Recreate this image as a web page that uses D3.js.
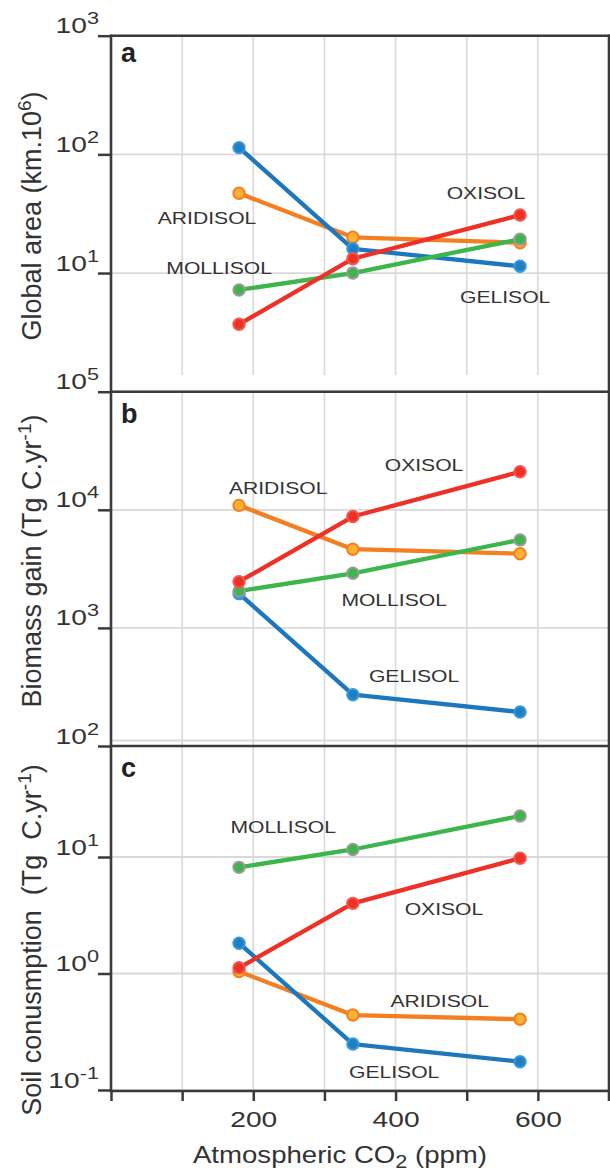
<!DOCTYPE html>
<html>
<head>
<meta charset="utf-8">
<script src="https://cdn.jsdelivr.net/npm/d3@7"></script>
<style>
  body { margin: 0; background: #fff; }
  text { font-family: Arial, 'Liberation Sans', Helvetica, sans-serif; fill: #333; white-space: pre; }
</style>
</head>
<body>
<div id="chart"></div>
<script>
// data
const co2 = [180, 340, 575];
const soils = ['ARIDISOL', 'GELISOL', 'MOLLISOL', 'OXISOL'];

// a: global area (km.10^6)
const areaAridisol = [47, 20, 18];
const areaGelisol = [114, 16, 11.4];
const areaMollisol = [7.2, 10, 19.3];
const areaOxisol = [3.7, 13.2, 30.8];

// b: biomass gain (Tg C/yr)
const biomassAridisol = [10900, 4640, 4250];
const biomassGelisol = [1950, 272, 194];
const biomassMollisol = [2050, 2900, 5560];
const biomassOxisol = [2460, 8770, 21000];

// c: soil consumption (Tg C/yr)
const soilAridisol = [1.04, 0.44, 0.405];
const soilGelisol = [1.82, 0.248, 0.175];
const soilMollisol = [8.15, 11.6, 22.5];
const soilOxisol = [1.12, 4.0, 9.75];

// tick labels
const xTicks = [0, 100, 200, 300, 400, 500, 600, 700];
const xTickLabels = [200, 400, 600];
const ticksA = [1000, 100, 10];
const ticksB = [1e5, 1e4, 1e3, 1e2];
const ticksC = [10, 1, 0.1];

// where the soil names sit, [co2, value] per soil order
const namesA = [[135, 29.1], [554, 6.2], [152, 11.0], [527, 47.2]];
const namesB = [[235, 15300], [426, 392], [398, 1720], [440, 23900]];
const namesC = [[462, 0.58], [398, 0.143], [242, 18.1], [468, 3.58]];

const chart_width = 610;
const chart_height = 1173;
const left = 111, right = 609;

const colors = {
    ARIDISOL: { line: '#f47f22', fill: '#fbb233', ring: '#f47f22' },
    GELISOL: { line: '#1c77bd', fill: '#1f7fc4', ring: '#3a98d6' },
    MOLLISOL: { line: '#3cb64b', fill: '#3cb64b', ring: '#9a9a9a' },
    OXISOL: { line: '#ee3026', fill: '#ee3026', ring: '#f0584b' }
};
const drawOrder = ['ARIDISOL', 'GELISOL', 'MOLLISOL', 'OXISOL'];

const panels = [
    { letter: 'a', top: 35.7, bottom: 391.7, gridBottom: 375, domain: [1, 1000], range: [391.7, 35.7],
      ticks: ticksA, series: [areaAridisol, areaGelisol, areaMollisol, areaOxisol], names: namesA,
      letterY: 62, title: ['Global area (km.10', '6', ')'], titleY: 216 },
    { letter: 'b', top: 391.7, bottom: 746, gridBottom: 746, domain: [100, 1e5], range: [746, 391.7],
      ticks: ticksB, series: [biomassAridisol, biomassGelisol, biomassMollisol, biomassOxisol], names: namesB,
      letterY: 423, title: ['Biomass gain (Tg C.yr', '-1', ')'], titleY: 561 },
    { letter: 'c', top: 746, bottom: 1091, gridBottom: 1091, domain: [0.1, 100], range: [1090, 740.5],
      ticks: ticksC, series: [soilAridisol, soilGelisol, soilMollisol, soilOxisol], names: namesC,
      letterY: 777, title: ['Soil conusmption  (Tg  C.yr', '-1', ')'], titleY: 940 }
];

const svg = d3.select('#chart')
    .append('svg')
    .attr('width', chart_width)
    .attr('height', chart_height);

const x_scale = d3.scaleLinear().domain([0, 700]).range([left, right]);

panels.forEach(p => {
    const y_scale = d3.scaleLog().domain(p.domain).range(p.range);
    const g = svg.append('g');

    // grid
    const decades = d3.range(Math.log10(p.domain[0]), Math.log10(p.domain[1]) + 0.5).map(e => Math.pow(10, e));
    g.selectAll('.hgrid')
        .data(decades)
        .enter()
        .append('line')
        .attr('x1', left).attr('x2', right)
        .attr('y1', d => y_scale(d)).attr('y2', d => y_scale(d))
        .attr('stroke', '#d9d9d9').attr('stroke-width', 1.8);
    g.selectAll('.vgrid')
        .data(d3.range(100, 700, 100))
        .enter()
        .append('line')
        .attr('x1', d => x_scale(d)).attr('x2', d => x_scale(d))
        .attr('y1', p.top).attr('y2', p.gridBottom)
        .attr('stroke', '#d9d9d9').attr('stroke-width', 1.6);

    // y axis ticks
    const yAxis = d3.axisLeft(y_scale).tickValues(p.ticks).tickSize(13).tickFormat('');
    const ax = g.append('g').attr('transform', `translate(${left},0)`).call(yAxis);
    ax.select('.domain').remove();
    ax.selectAll('line').attr('stroke', '#3a3a3a').attr('stroke-width', 2.5);

    p.ticks.forEach(t => {
        const txt = g.append('text')
            .attr('transform', `translate(99,${y_scale(t) - 2.5}) scale(1.28,1)`)
            .attr('text-anchor', 'end')
            .attr('font-size', 22);
        txt.append('tspan').text('10');
        txt.append('tspan').attr('font-size', 17).attr('dy', -9).text(String(Math.round(Math.log10(t))));
    });

    // panel letter
    g.append('text')
        .attr('x', 121).attr('y', p.letterY)
        .attr('font-size', 27).attr('font-weight', 'bold')
        .style('fill', '#222')
        .text(p.letter);

    // y title
    const title = g.append('text')
        .attr('transform', `translate(41,${p.titleY}) rotate(-90)`)
        .attr('text-anchor', 'middle')
        .attr('font-size', 27);
    title.append('tspan').text(p.title[0]);
    title.append('tspan').attr('font-size', 19).attr('dy', -10).text(p.title[1]);
    title.append('tspan').attr('dy', 10).text(p.title[2]);

    // lines and points
    const line = d3.line().x((d, i) => x_scale(co2[i])).y(d => y_scale(d));
    drawOrder.forEach(name => {
        const k = soils.indexOf(name);
        const vals = p.series[k];
        const c = colors[name];
        g.append('path')
            .datum(vals)
            .attr('d', line)
            .attr('fill', 'none')
            .attr('stroke', c.line)
            .attr('stroke-width', 4.3)
            .attr('stroke-linejoin', 'round');
        g.selectAll(null)
            .data(vals)
            .enter()
            .append('circle')
            .attr('cx', (d, i) => x_scale(co2[i]))
            .attr('cy', d => y_scale(d))
            .attr('r', 5.7)
            .attr('fill', c.fill)
            .attr('stroke', c.ring)
            .attr('stroke-width', 2);
    });

    // soil names
    soils.forEach((name, k) => {
        const pos = p.names[k];
        g.append('text')
            .attr('transform', `translate(${x_scale(pos[0])},${y_scale(pos[1])}) scale(1.32,1)`)
            .attr('text-anchor', 'middle')
            .attr('dy', '0.36em')
            .attr('font-size', 16)
            .text(name);
    });
});

// frame
const frame = svg.append('g').attr('stroke', '#3a3a3a').attr('stroke-width', 2.6).attr('fill', 'none');
frame.append('line').attr('x1', left).attr('x2', left).attr('y1', 34.5).attr('y2', 1092.3);
frame.append('line').attr('x1', right).attr('x2', right).attr('y1', 34.5).attr('y2', 1101);
panels.forEach(p => {
    frame.append('line').attr('x1', left).attr('x2', right + 1).attr('y1', p.top).attr('y2', p.top);
});
frame.append('line').attr('x1', left).attr('x2', right + 1).attr('y1', 1091).attr('y2', 1091);

// x axis
const xAxis = d3.axisBottom(x_scale)
    .tickValues(xTicks)
    .tickSize(10)
    .tickFormat(d => xTickLabels.includes(d) ? d : '');
const xg = svg.append('g').attr('transform', 'translate(0,1091)').call(xAxis);
xg.select('.domain').remove();
xg.selectAll('line').attr('stroke', '#3a3a3a').attr('stroke-width', 2.5);
xg.selectAll('text')
    .attr('y', null).attr('dy', null)
    .attr('transform', 'translate(0,36) scale(1.28,1)')
    .attr('font-size', 22)
    .attr('font-family', null)
    .style('fill', '#333');

// x title
const xt = svg.append('text')
    .attr('transform', 'translate(340,1163) scale(1.2,1)')
    .attr('text-anchor', 'middle')
    .attr('font-size', 23);
xt.append('tspan').text('Atmospheric CO');
xt.append('tspan').attr('font-size', 18).attr('dy', 5).text('2');
xt.append('tspan').attr('dy', -5).text(' (ppm)');
</script>
</body>
</html>
